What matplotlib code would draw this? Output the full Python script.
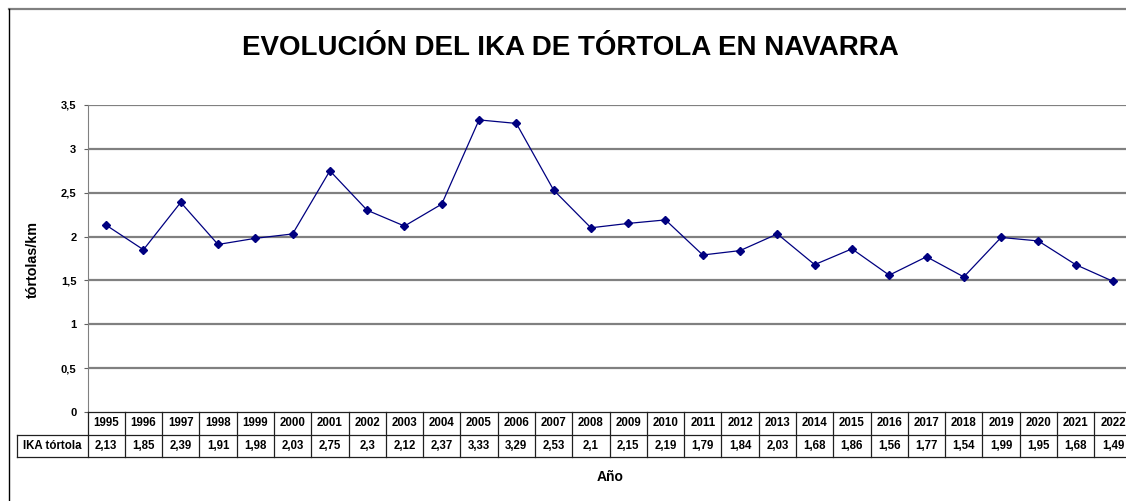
import matplotlib
matplotlib.use("Agg")
import matplotlib.pyplot as plt
from matplotlib.lines import Line2D
from matplotlib.transforms import blended_transform_factory

years = list(range(1995, 2023))
ika = [2.13, 1.85, 2.39, 1.91, 1.98, 2.03, 2.75, 2.3, 2.12, 2.37, 3.33, 3.29, 2.53, 2.1,
       2.15, 2.19, 1.79, 1.84, 2.03, 1.68, 1.86, 1.56, 1.77, 1.54, 1.99, 1.95, 1.68, 1.49]
yticks = [0, 0.5, 1, 1.5, 2, 2.5, 3, 3.5]
ytick_labels = ["0", "0,5", "1", "1,5", "2", "2,5", "3", "3,5"]
row_label = "IKA tórtola"
title = "EVOLUCIÓN DEL IKA DE TÓRTOLA EN NAVARRA"

W, H = 1126, 501
plt.rcParams['font.family'] = ['Liberation Sans', 'DejaVu Sans']
fig = plt.figure(figsize=(W / 100, H / 100), dpi=100)

def fx(px):
    return px / W

def fy(py):
    return 1 - py / H

# axes in pixel coordinates
left_px, right_px, top_px, bot_px = 87.5, 1131.6, 105, 412
ax = fig.add_axes([fx(left_px), fy(bot_px), fx(right_px - left_px), (bot_px - top_px) / H])
x = list(range(len(years)))
ax.set_xlim(-0.5, len(years) - 0.5)
ax.set_ylim(0, 3.5)
for yv in yticks[1:]:
    ax.axhline(yv, color='#808080', lw=1.6, zorder=1)
ax.plot(x, ika, color='#000080', lw=0.9, marker='D', ms=4.2, mfc='#000080', mec='#000080', zorder=3)
ax.set_yticks(yticks)
ax.set_yticklabels(ytick_labels, fontsize=8, fontweight='bold')
ax.tick_params(axis='y', length=3, width=0.8, color='#606060', pad=5)
ax.set_xticks([])
for s in ['top', 'right', 'bottom']:
    ax.spines[s].set_visible(False)
ax.spines['left'].set_color('#808080')
ax.spines['left'].set_linewidth(0.8)

# table
tr = blended_transform_factory(ax.transData, fig.transFigure)
r0, r1, r2 = fy(412), fy(435), fy(457)
lc = '#202020'
lw = 0.9
fs = 8.3
xs = [i - 0.5 for i in range(len(years) + 1)]
fig.add_artist(Line2D([xs[0], xs[-1]], [r0, r0], transform=tr, color=lc, lw=lw))
fig.add_artist(Line2D([fx(17), fx(right_px)], [r1, r1], transform=fig.transFigure, color=lc, lw=lw))
fig.add_artist(Line2D([fx(17), fx(right_px)], [r2, r2], transform=fig.transFigure, color=lc, lw=lw))
fig.add_artist(Line2D([fx(17), fx(17)], [r1, r2], transform=fig.transFigure, color=lc, lw=lw))
for xv in xs:
    fig.add_artist(Line2D([xv, xv], [r0, r2], transform=tr, color=lc, lw=lw))
for i, (yr, v) in enumerate(zip(years, ika)):
    fig.text(i, (r0 + r1) / 2, str(yr), transform=tr, ha='center', va='center',
             fontsize=fs, fontweight='bold')
    fig.text(i, (r1 + r2) / 2, ("%g" % v).replace('.', ','), transform=tr, ha='center', va='center',
             fontsize=fs, fontweight='bold')
fig.text(fx(52), (r1 + r2) / 2, row_label, ha='center', va='center', fontsize=fs, fontweight='bold')

# labels
fig.text(fx(570), fy(48), title, ha='center', va='center', fontsize=20, fontweight='bold')
fig.text(fx(33), fy(259), "tórtolas/km", ha='center', va='center', rotation=90, fontsize=10.3, fontweight='bold')
fig.text(fx(610), fy(477), "Año", ha='center', va='center', fontsize=10, fontweight='bold')

# frame
fig.add_artist(Line2D([fx(9), fx(W)], [fy(8.5), fy(8.5)], transform=fig.transFigure, color='#808080', lw=1.6))
fig.add_artist(Line2D([fx(9), fx(9)], [fy(8.5), 0], transform=fig.transFigure, color='black', lw=1.0))

fig.savefig("out.png", dpi=100)
